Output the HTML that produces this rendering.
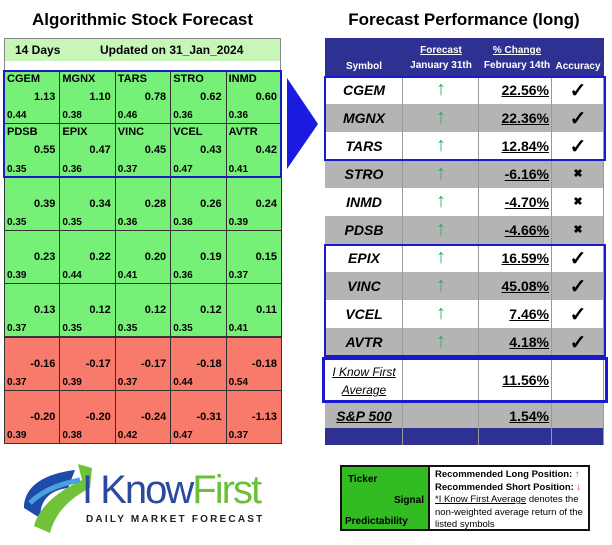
<!DOCTYPE html>
<html><head><meta charset="utf-8"><style>
body{margin:0;width:612px;height:545px;background:#fff;position:relative;overflow:hidden;font-family:"Liberation Sans",sans-serif;}
.a{position:absolute;box-sizing:border-box;}
.cell{position:absolute;box-sizing:border-box;border:1px solid #333;font-weight:bold;color:#000;}
.tk{position:absolute;left:2px;top:2px;font-size:11px;}
.sg{position:absolute;right:4px;top:20px;font-size:11px;}
.pr{position:absolute;left:2px;bottom:2px;font-size:10px;}
</style></head><body>
<div class="a" style="left:4px;top:10px;width:277px;text-align:center;font-size:17px;font-weight:bold;">Algorithmic Stock Forecast</div>
<div class="a" style="left:324px;top:10px;width:280px;text-align:center;font-size:17px;font-weight:bold;">Forecast Performance (long)</div>
<div class="a" style="left:4px;top:38px;width:277px;height:32px;border:1px solid #888;border-bottom:none;background:linear-gradient(#c8f5b8 0,#c8f5b8 22px,#fff 22px);font-size:12px;font-weight:bold;">
<span style="position:absolute;left:10px;top:4px;">14 Days</span><span style="position:absolute;left:95px;top:4px;">Updated on 31_Jan_2024</span></div>
<div id="grid"></div>
<div class="a" style="left:3px;top:70px;width:279px;height:108px;border:2px solid #1a1acc;"></div>
<svg class="a" style="left:287px;top:78px;" width="32" height="92"><polygon points="0,0 31,46 0,91" fill="#1a1ae0"/></svg>
<div id="rt"></div>
<div class="a" style="left:340px;top:465px;width:250px;height:66px;border:2px solid #111;">
<div class="a" style="left:0;top:0;width:88px;height:62px;background:#33bb22;border-right:2px solid #111;font-size:10px;font-weight:bold;">
<span style="position:absolute;left:6px;top:7px;">Ticker</span><span style="position:absolute;right:4px;top:28px;">Signal</span><span style="position:absolute;left:3px;top:49px;">Predictability</span></div>
<div class="a" style="left:93px;top:2px;font-size:9.5px;line-height:12.5px;width:155px;">
<b>Recommended Long Position:</b> <span style="color:#2a2">↑</span><br><b>Recommended Short Position:</b> <span style="color:#d22">↓</span><br><u>*I Know First Average</u> denotes the non-weighted average return of the listed symbols</div></div>
<div class="a" style="left:20px;top:458px;width:250px;height:80px;">
<svg class="a" style="left:0;top:0" width="80" height="80"><path d="M4,50 C4,25 30,15 55,12 L48,30 C30,32 20,42 20,60 Z" fill="#1e4aa8"/><path d="M14,68 C20,45 45,30 62,22 L58,6 L72,10 L70,30 C50,40 35,55 30,75 Z" fill="#6fc23a"/><path d="M10,45 C25,30 45,25 60,22" stroke="#4aa0e0" stroke-width="5" fill="none"/></svg>
<div class="a" style="left:62px;top:10px;font-size:40px;letter-spacing:-2px;line-height:44px;white-space:nowrap;"><span style="color:#2a4aa0">I Know</span><span style="color:#6cbf3a">First</span></div>
<div class="a" style="left:66px;top:56px;font-size:10px;font-weight:bold;letter-spacing:2.2px;color:#222;white-space:nowrap;">DAILY MARKET FORECAST</div></div>
<script>
const tickers=["CGEM","MGNX","TARS","STRO","INMD","PDSB","EPIX","VINC","VCEL","AVTR"];
const signals=[1.13,1.10,0.78,0.62,0.60,0.55,0.47,0.45,0.43,0.42,0.39,0.34,0.28,0.26,0.24,0.23,0.22,0.20,0.19,0.15,0.13,0.12,0.12,0.12,0.11,-0.16,-0.17,-0.17,-0.18,-0.18,-0.20,-0.20,-0.24,-0.31,-1.13];
const preds=[0.44,0.38,0.46,0.36,0.36,0.35,0.36,0.37,0.47,0.41,0.35,0.35,0.36,0.36,0.39,0.39,0.44,0.41,0.36,0.37,0.37,0.35,0.35,0.35,0.41,0.37,0.39,0.37,0.44,0.54,0.39,0.38,0.42,0.47,0.37];
const perfSym=["CGEM","MGNX","TARS","STRO","INMD","PDSB","EPIX","VINC","VCEL","AVTR"];
const perfChg=[22.56,22.36,12.84,-6.16,-4.70,-4.66,16.59,45.08,7.46,4.18];
const avgChg=11.56, spChg=1.54;
const g=document.getElementById('grid');
const cw=55.4,ch=53.3,gx=4,gy=70;
signals.forEach((v,i)=>{const r=Math.floor(i/5),c=i%5;const d=document.createElement('div');


d.className='cell';d.style.left=(gx+c*cw)+'px';d.style.top=(gy+r*ch)+'px';d.style.width=(cw+1)+'px';d.style.height=(ch+1)+'px';
d.style.background=v>=0?'#77f077':'#f87a6a';
d.innerHTML=(i<tickers.length?'<span class="tk">'+tickers[i]+'</span>':'')+'<span class="sg">'+v.toFixed(2)+'</span><span class="pr">'+preds[i].toFixed(2)+'</span>';
g.appendChild(d);});
const rt=document.getElementById('rt');
const cx=[325,403,479,552,604],rh=28,ry=76;
function add(html,style,name){const e=document.createElement('div');e.className='a';e.style.cssText=style;e.innerHTML=html;


rt.appendChild(e);return e;}
add('', 'left:325px;top:38px;width:279px;height:38px;background:#2e3192;','table-header');
add('<span style="position:absolute;left:0;top:21px;width:78px;text-align:center">Symbol</span><span style="position:absolute;left:78px;top:5px;width:76px;text-align:center"><u>Forecast</u><br>January 31th</span><span style="position:absolute;left:154px;top:5px;width:76px;text-align:center"><u>% Change</u><br>February 14th</span><span style="position:absolute;left:226px;top:21px;width:54px;text-align:center">Accuracy</span>','left:325px;top:38px;width:279px;height:38px;color:#fff;font-size:10px;font-weight:bold;line-height:15px;','header-labels');
perfChg.forEach((v,i)=>{const y=ry+i*rh,bg=i%2?'#b4b4b4':'#fff',ok=v>0;
add('','left:325px;top:'+y+'px;width:279px;height:'+rh+'px;background:'+bg+';','perf-row');
for(let k=0;k<4;k++){add('','left:'+cx[k]+'px;top:'+y+'px;width:'+(cx[k+1]-cx[k])+'px;height:'+rh+'px;border-right:1px solid #999;','row-divider');}
add(perfSym[i],'left:325px;top:'+(y+6)+'px;width:78px;text-align:center;font-size:14px;font-weight:bold;font-style:italic;','perf-symbol');
add('↑','left:403px;top:'+(y+2)+'px;width:76px;text-align:center;font-size:20px;color:#2bb060;','signal-arrow');
add('<u>'+v.toFixed(2)+'%</u>','left:479px;top:'+(y+6)+'px;width:70px;text-align:right;font-size:14px;font-weight:bold;','perf-change');
add(ok?'✓':'✖','left:552px;top:'+(y+(ok?2:7))+'px;width:52px;text-align:center;font-weight:bold;font-size:'+(ok?'20px':'11px')+';','accuracy-mark');});
const ay=ry+10*rh+2;
add('','left:325px;top:'+ay+'px;width:279px;height:44px;background:#fff;','average-row');
add('','left:325px;top:'+(ay+44)+'px;width:279px;height:26px;background:#b4b4b4;','sp500-row');
add('','left:325px;top:'+(ay+70)+'px;width:279px;height:17px;background:#2e3192;','table-footer');
for(let k=0;k<4;k++){add('','left:'+cx[k]+'px;top:'+ay+'px;width:'+(cx[k+1]-cx[k])+'px;height:87px;border-right:1px solid #999;','col-divider');}
add('<u>I Know First<br>Average</u>','left:325px;top:'+(ay+5)+'px;width:78px;text-align:center;font-size:12px;font-style:italic;line-height:18px;','average-label');
add('<u>'+avgChg.toFixed(2)+'%</u>','left:479px;top:'+(ay+14)+'px;width:70px;text-align:right;font-size:14px;font-weight:bold;','average-value');
add('<u>S&amp;P 500</u>','left:325px;top:'+(ay+50)+'px;width:78px;text-align:center;font-size:14px;font-weight:bold;font-style:italic;','sp500-label');
add('<u>'+spChg.toFixed(2)+'%</u>','left:479px;top:'+(ay+50)+'px;width:70px;text-align:right;font-size:14px;font-weight:bold;','sp500-value');
add('','left:324px;top:'+ry+'px;width:282px;height:'+(3*rh+1)+'px;border:2px solid #1a1acc;','top3-highlight');
add('','left:324px;top:'+(ry+6*rh)+'px;width:282px;height:'+(4*rh+1)+'px;border:2px solid #1a1acc;','bottom4-highlight');
add('','left:322px;top:'+(ay-1)+'px;width:286px;height:46px;border:3px solid #1a1acc;','average-highlight');
</script>
</body></html>
